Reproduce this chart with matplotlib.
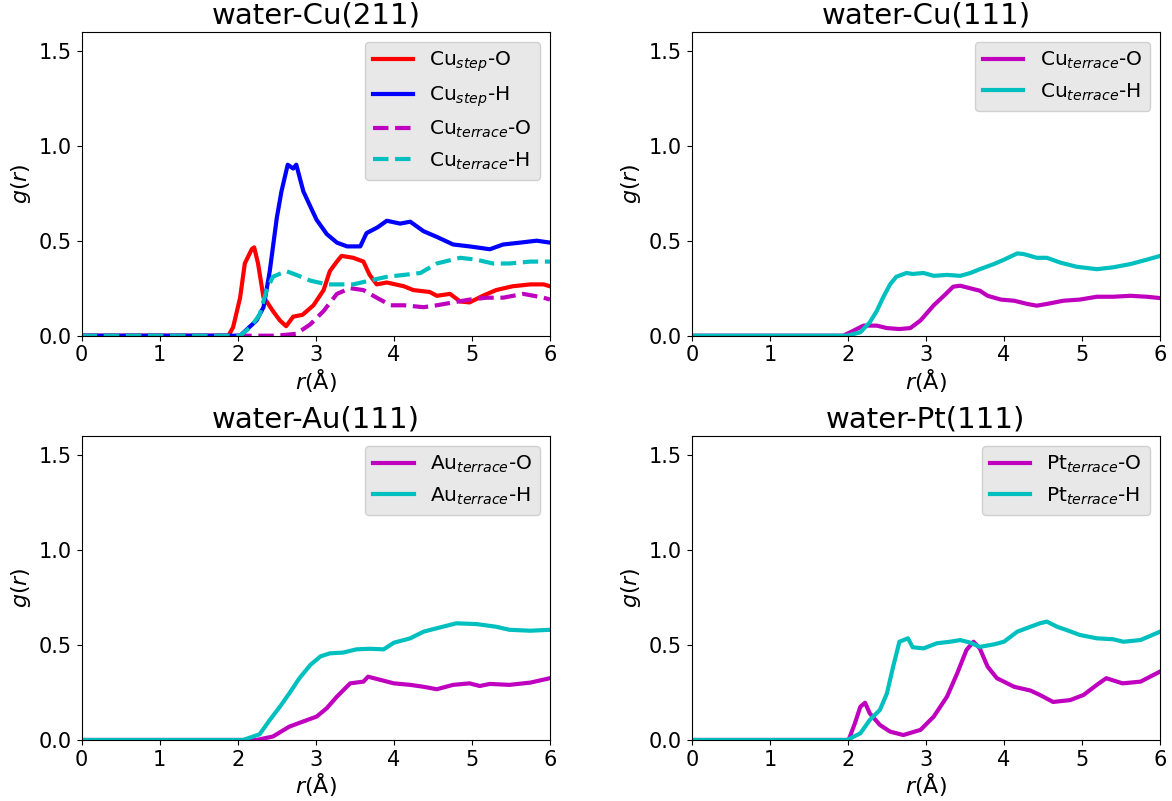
import matplotlib
matplotlib.use("Agg")
import matplotlib.pyplot as plt

# ---------------------------------------------------------------------------
# RDF data (r in Angstrom, g(r))
# ---------------------------------------------------------------------------

# water-Cu(211)
r_cu211_step_o = [0, 1.88, 1.94, 2.03, 2.09, 2.18, 2.21, 2.26, 2.33, 2.37, 2.45, 2.54, 2.62, 2.71,
                  2.83, 2.97, 3.10, 3.18, 3.27, 3.33, 3.48, 3.61, 3.69, 3.78, 3.91, 4.13, 4.25,
                  4.46, 4.55, 4.72, 4.85, 4.97, 5.14, 5.31, 5.52, 5.75, 5.92, 6.0]
g_cu211_step_o = [0, 0, 0.044, 0.20, 0.38, 0.456, 0.465, 0.38, 0.20, 0.18, 0.13, 0.08, 0.05, 0.10,
                  0.11, 0.16, 0.24, 0.34, 0.39, 0.42, 0.41, 0.39, 0.32, 0.27, 0.28, 0.26, 0.24,
                  0.23, 0.21, 0.22, 0.18, 0.175, 0.21, 0.24, 0.26, 0.27, 0.27, 0.26]

r_cu211_step_h = [0, 2.03, 2.24, 2.33, 2.41, 2.50, 2.56, 2.64, 2.71, 2.75, 2.84, 2.93, 3.01, 3.14,
                  3.27, 3.40, 3.57, 3.65, 3.79, 3.91, 4.08, 4.21, 4.38, 4.55, 4.76, 4.97, 5.23,
                  5.40, 5.62, 5.83, 6.0]
g_cu211_step_h = [0, 0, 0.08, 0.15, 0.34, 0.62, 0.76, 0.90, 0.88, 0.90, 0.76, 0.68, 0.61, 0.535,
                  0.49, 0.47, 0.47, 0.54, 0.57, 0.605, 0.59, 0.60, 0.55, 0.52, 0.48, 0.47, 0.455,
                  0.48, 0.49, 0.50, 0.49]

r_cu211_terr_o = [0, 2.5, 2.75, 2.93, 3.10, 3.27, 3.44, 3.61, 3.78, 3.96, 4.13, 4.38, 4.55, 4.76,
                  4.97, 5.19, 5.40, 5.66, 5.92, 6.0]
g_cu211_terr_o = [0, 0, 0.01, 0.06, 0.13, 0.22, 0.25, 0.24, 0.20, 0.16, 0.16, 0.15, 0.16, 0.175,
                  0.19, 0.20, 0.20, 0.22, 0.20, 0.19]

r_cu211_terr_h = [0, 2.03, 2.16, 2.28, 2.37, 2.45, 2.62, 2.75, 2.93, 3.14, 3.35, 3.48, 3.69, 3.91,
                  4.13, 4.34, 4.55, 4.85, 5.06, 5.27, 5.48, 5.75, 6.0]
g_cu211_terr_h = [0, 0, 0.044, 0.11, 0.24, 0.31, 0.34, 0.32, 0.29, 0.27, 0.27, 0.27, 0.29, 0.31,
                  0.32, 0.33, 0.38, 0.41, 0.40, 0.38, 0.38, 0.39, 0.39]

# water-Cu(111)
r_cu111_o = [0, 1.94, 2.07, 2.20, 2.37, 2.50, 2.66, 2.80, 2.93, 3.10, 3.23, 3.35, 3.44, 3.61,
             3.69, 3.79, 3.96, 4.13, 4.30, 4.42, 4.55, 4.76, 4.97, 5.19, 5.40, 5.62, 5.83, 6.0]
g_cu111_o = [0, 0, 0.026, 0.053, 0.053, 0.04, 0.035, 0.04, 0.08, 0.16, 0.21, 0.258, 0.263, 0.245,
             0.237, 0.21, 0.19, 0.184, 0.167, 0.158, 0.167, 0.184, 0.19, 0.205, 0.205, 0.21, 0.205,
             0.198]

r_cu111_h = [0, 1.99, 2.16, 2.28, 2.37, 2.45, 2.54, 2.62, 2.75, 2.83, 2.97, 3.10, 3.27, 3.44,
             3.57, 3.69, 3.87, 4.00, 4.17, 4.25, 4.42, 4.55, 4.72, 4.93, 5.19, 5.40, 5.62, 5.83,
             6.0]
g_cu111_h = [0, 0, 0.018, 0.07, 0.13, 0.20, 0.27, 0.31, 0.33, 0.325, 0.33, 0.315, 0.32, 0.315,
             0.33, 0.35, 0.377, 0.40, 0.433, 0.43, 0.41, 0.41, 0.385, 0.363, 0.35, 0.36, 0.377,
             0.40, 0.42]

# water-Au(111)
r_au111_o = [0, 2.24, 2.45, 2.66, 2.83, 3.01, 3.14, 3.27, 3.44, 3.61, 3.67, 3.83, 4.00, 4.21,
             4.38, 4.55, 4.76, 4.97, 5.10, 5.23, 5.48, 5.75, 6.0]
g_au111_o = [0, 0, 0.018, 0.07, 0.096, 0.123, 0.167, 0.228, 0.298, 0.307, 0.333, 0.316, 0.298,
             0.29, 0.28, 0.267, 0.29, 0.298, 0.284, 0.295, 0.29, 0.302, 0.325]

r_au111_h = [0, 2.07, 2.28, 2.41, 2.54, 2.66, 2.79, 2.93, 3.06, 3.18, 3.35, 3.52, 3.69, 3.87,
             4.00, 4.21, 4.38, 4.55, 4.80, 5.06, 5.31, 5.48, 5.75, 6.0]
g_au111_h = [0, 0, 0.03, 0.105, 0.175, 0.245, 0.325, 0.395, 0.44, 0.456, 0.46, 0.477, 0.48, 0.477,
             0.512, 0.535, 0.57, 0.588, 0.614, 0.61, 0.596, 0.58, 0.575, 0.58]

# water-Pt(111)
r_pt111_o = [0, 2.01, 2.09, 2.16, 2.22, 2.28, 2.41, 2.54, 2.71, 2.93, 3.10, 3.27, 3.40, 3.52,
             3.61, 3.69, 3.79, 3.91, 4.13, 4.34, 4.46, 4.63, 4.85, 5.02, 5.19, 5.31, 5.52, 5.75,
             6.0]
g_pt111_o = [0, 0, 0.088, 0.175, 0.196, 0.14, 0.079, 0.044, 0.026, 0.053, 0.123, 0.228, 0.35,
             0.474, 0.517, 0.482, 0.386, 0.325, 0.28, 0.26, 0.237, 0.20, 0.21, 0.237, 0.29, 0.325,
             0.298, 0.307, 0.36]

r_pt111_h = [0, 1.99, 2.16, 2.28, 2.41, 2.50, 2.58, 2.66, 2.77, 2.83, 2.97, 3.14, 3.31, 3.44,
             3.57, 3.69, 3.87, 4.00, 4.17, 4.34, 4.46, 4.55, 4.68, 4.80, 4.97, 5.19, 5.40, 5.53,
             5.75, 6.0]
g_pt111_h = [0, 0, 0.035, 0.105, 0.158, 0.245, 0.386, 0.517, 0.535, 0.488, 0.482, 0.509, 0.517,
             0.526, 0.512, 0.49, 0.503, 0.517, 0.57, 0.596, 0.614, 0.623, 0.596, 0.579, 0.553,
             0.535, 0.53, 0.517, 0.526, 0.57]

TITLES = ["water-Cu(211)", "water-Cu(111)", "water-Au(111)", "water-Pt(111)"]

LW = 3.0


def style_axis(ax: plt.Axes, title: str) -> None:
    ax.set_xlim(0, 6)
    ax.set_ylim(0, 1.6)
    ax.set_xticks([0, 1, 2, 3, 4, 5, 6])
    ax.set_yticks([0.0, 0.5, 1.0, 1.5])
    ax.tick_params(labelsize=15)
    ax.set_title(title, fontsize=21)
    ax.set_xlabel(r"$r$(Å)", fontsize=16, labelpad=1)
    ax.set_ylabel(r"$g(r)$", fontsize=16)
    ax.legend(loc="upper right", fontsize=14.5, facecolor="#e8e8e8",
              edgecolor="#d0d0d0", framealpha=1.0, handlelength=2.0)


fig, axes = plt.subplots(2, 2, figsize=(11.72, 8.01), dpi=100)
fig.subplots_adjust(left=0.0697, right=0.9898, bottom=0.0762, top=0.9604,
                    hspace=0.33, wspace=0.303)

ax = axes[0, 0]
ax.plot(r_cu211_step_o, g_cu211_step_o, color="r", lw=LW, label=r"Cu$_{step}$-O")
ax.plot(r_cu211_step_h, g_cu211_step_h, color="b", lw=LW, label=r"Cu$_{step}$-H")
ax.plot(r_cu211_terr_o, g_cu211_terr_o, color="m", lw=LW, ls="--", label=r"Cu$_{terrace}$-O")
ax.plot(r_cu211_terr_h, g_cu211_terr_h, color="c", lw=LW, ls="--", label=r"Cu$_{terrace}$-H")
style_axis(ax, TITLES[0])

ax = axes[0, 1]
ax.plot(r_cu111_o, g_cu111_o, color="m", lw=LW, label=r"Cu$_{terrace}$-O")
ax.plot(r_cu111_h, g_cu111_h, color="c", lw=LW, label=r"Cu$_{terrace}$-H")
style_axis(ax, TITLES[1])

ax = axes[1, 0]
ax.plot(r_au111_o, g_au111_o, color="m", lw=LW, label=r"Au$_{terrace}$-O")
ax.plot(r_au111_h, g_au111_h, color="c", lw=LW, label=r"Au$_{terrace}$-H")
style_axis(ax, TITLES[2])

ax = axes[1, 1]
ax.plot(r_pt111_o, g_pt111_o, color="m", lw=LW, label=r"Pt$_{terrace}$-O")
ax.plot(r_pt111_h, g_pt111_h, color="c", lw=LW, label=r"Pt$_{terrace}$-H")
style_axis(ax, TITLES[3])

fig.savefig("out.png", dpi=100)
plt.close(fig)
